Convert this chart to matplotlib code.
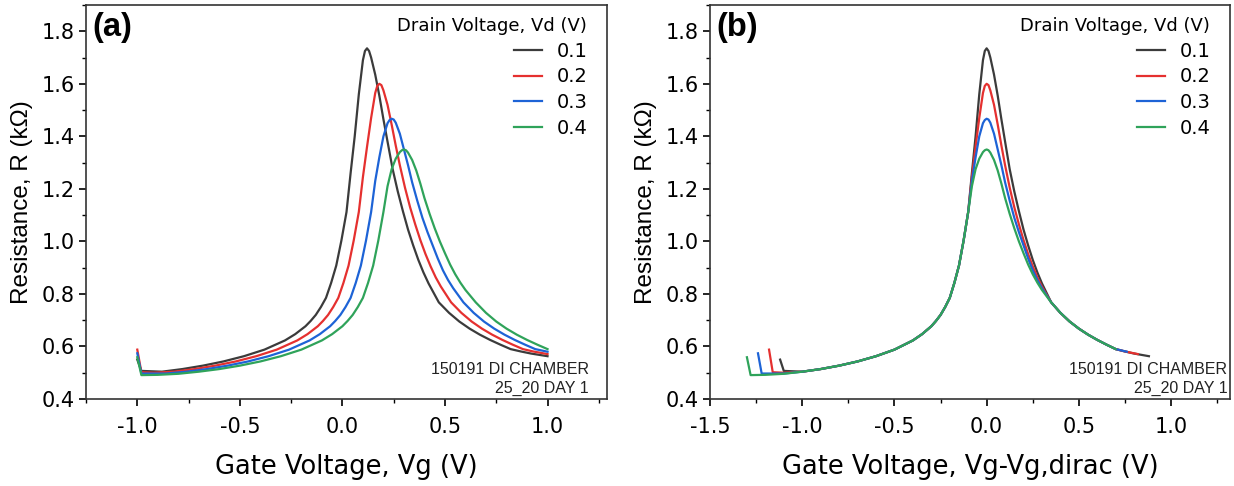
import numpy as np
import matplotlib
matplotlib.use("Agg")
import matplotlib.pyplot as plt
from matplotlib.ticker import MultipleLocator, FormatStrFormatter

plt.rcParams['font.family'] = ['DejaVu Sans']

# drain voltages and Dirac point of each sweep (V)
vd_labels = ['0.1', '0.2', '0.3', '0.4']
vg_dirac = [0.12, 0.18, 0.24, 0.30]
colors = ['#3b3b3b', '#e5302f', '#1d63d6', '#2fa35a']

# start of each sweep (Vg = -1.0), given as Vg - Vg,dirac
start_dv = [[-1.12, -1.10],
            [-1.18, -1.16, -1.10],
            [-1.24, -1.22, -1.10],
            [-1.30, -1.28, -1.20, -1.10]]
start_r = [[0.550, 0.507],
           [0.588, 0.502, 0.500],
           [0.574, 0.497, 0.497],
           [0.559, 0.491, 0.492, 0.496]]

# hole branch, same for all Vd
left_dv = [-1.0, -0.9, -0.8, -0.7, -0.6, -0.5, -0.4, -0.35, -0.3, -0.275,
           -0.25, -0.225, -0.2, -0.175, -0.15, -0.125, -0.1]
left_r = [0.504, 0.514, 0.527, 0.543, 0.563, 0.588, 0.623, 0.647, 0.677, 0.697,
          0.720, 0.750, 0.785, 0.842, 0.908, 1.003, 1.112]

# around the Dirac peak
peak_dv = [-0.08, -0.06, -0.04, -0.02, -0.01, 0.0, 0.01, 0.02, 0.04, 0.06,
           0.08, 0.10, 0.125, 0.15, 0.175, 0.20, 0.225, 0.25, 0.275, 0.30]
peak_r = [[1.26, 1.40, 1.56, 1.69, 1.725, 1.735, 1.725, 1.70, 1.635, 1.555,
           1.465, 1.38, 1.275, 1.19, 1.115, 1.045, 0.985, 0.930, 0.882, 0.840],
          [1.245, 1.36, 1.47, 1.565, 1.592, 1.60, 1.595, 1.575, 1.52, 1.445,
           1.365, 1.29, 1.205, 1.13, 1.065, 1.005, 0.952, 0.905, 0.863, 0.828],
          [1.23, 1.32, 1.40, 1.45, 1.462, 1.467, 1.464, 1.452, 1.41, 1.35,
           1.29, 1.225, 1.155, 1.09, 1.035, 0.985, 0.935, 0.890, 0.853, 0.822],
          [1.21, 1.275, 1.315, 1.34, 1.347, 1.35, 1.347, 1.338, 1.31, 1.27,
           1.22, 1.165, 1.105, 1.05, 1.0, 0.955, 0.912, 0.875, 0.843, 0.815]]

# electron branch, same for all Vd
right_dv = [0.35, 0.40, 0.45, 0.50, 0.55, 0.60, 0.65, 0.70]
right_r = [0.768, 0.728, 0.695, 0.668, 0.645, 0.625, 0.607, 0.590]

# end of each sweep (Vg = 1.0)
end_dv = [[0.75, 0.80, 0.88], [0.75, 0.82], [0.76], []]
end_r = [[0.581, 0.573, 0.563], [0.581, 0.571], [0.580], []]

fig = plt.figure(figsize=(12.34, 4.86), dpi=100)
ax_a = fig.add_axes([0.0697, 0.179, 0.4222, 0.8107])
ax_b = fig.add_axes([0.5754, 0.179, 0.4214, 0.8107])

for i in range(4):
    dv = np.array(start_dv[i] + left_dv + peak_dv + right_dv + end_dv[i])
    r = np.array(start_r[i] + left_r + peak_r[i] + right_r + end_r[i])
    ax_a.plot(dv + vg_dirac[i], r, color=colors[i], lw=1.6, label=vd_labels[i])
    ax_b.plot(dv, r, color=colors[i], lw=1.6, label=vd_labels[i])

ax_a.set_xlim(-1.25, 1.29)
ax_b.set_xlim(-1.5, 1.32)
ax_a.set_xlabel('Gate Voltage, Vg (V)', fontsize=18.5, labelpad=12)
ax_b.set_xlabel('Gate Voltage, Vg-Vg,dirac (V)', fontsize=18.5, labelpad=12)

for ax, tag, ann_x, ann_y in [(ax_a, '(a)', 0.965, 0.05), (ax_b, '(b)', 0.995, 0.05)]:
    ax.set_ylim(0.4, 1.9)
    ax.set_ylabel('Resistance, R (kΩ)', fontsize=17.5, labelpad=6,
                  family=['Liberation Sans', 'DejaVu Sans'])
    ax.xaxis.set_major_locator(MultipleLocator(0.5))
    ax.xaxis.set_minor_locator(MultipleLocator(0.25))
    ax.yaxis.set_major_locator(MultipleLocator(0.2))
    ax.yaxis.set_minor_locator(MultipleLocator(0.1))
    ax.xaxis.set_major_formatter(FormatStrFormatter('%.1f'))
    ax.yaxis.set_major_formatter(FormatStrFormatter('%.1f'))
    ax.tick_params(which='major', direction='out', length=5, width=1.2, labelsize=15)
    ax.tick_params(axis='x', which='major', pad=8)
    ax.tick_params(axis='y', which='major', pad=3)
    ax.tick_params(which='minor', direction='out', length=3, width=1.0)
    for s in ax.spines.values():
        s.set_linewidth(1.2)
        s.set_color('#333333')
    ax.text(0.012, 0.983, tag, transform=ax.transAxes, fontsize=23.5,
            fontweight='bold', va='top', ha='left',
            family=['Liberation Sans', 'DejaVu Sans'])
    ax.text(ann_x, ann_y, '150191 DI CHAMBER\n25_20 DAY 1', transform=ax.transAxes,
            fontsize=11.5, ha='right', va='center', linespacing=1.35, color='#222222',
            family=['Liberation Sans', 'DejaVu Sans'])
    ax.legend(title='Drain Voltage, Vd (V)', loc='upper right',
              bbox_to_anchor=(0.977, 0.99), frameon=False,
              fontsize=14, title_fontsize=13, handlelength=1.45,
              handletextpad=0.75, labelspacing=0.35, borderaxespad=0.0,
              alignment='right')

fig.savefig('out.png', dpi=100)
